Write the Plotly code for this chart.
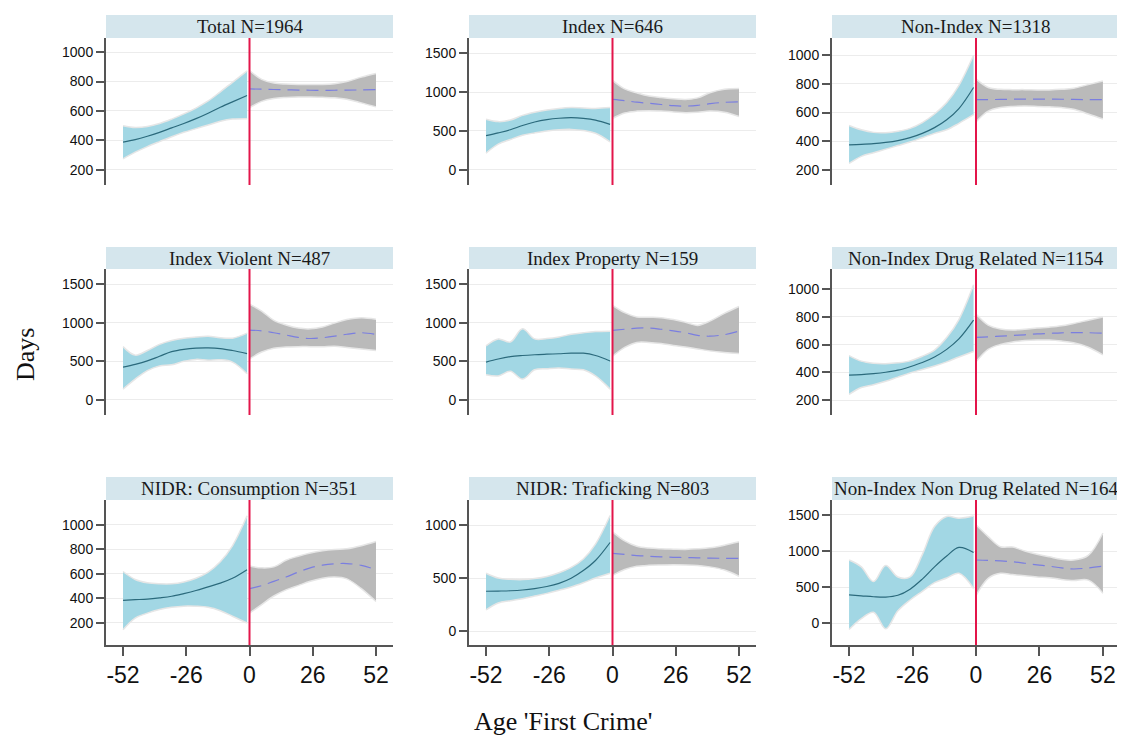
import plotly.graph_objects as go

# ---------------- data ----------------
weeks_before = [-52, -47, -42, -37, -32, -27, -22, -17, -12, -7, -1]
weeks_after = [0, 5, 10, 15, 20, 25, 30, 35, 40, 46, 52]

titles = ["Total N=1964", "Index N=646", "Non-Index N=1318",
          "Index Violent N=487", "Index Property N=159", "Non-Index Drug Related N=1154",
          "NIDR: Consumption N=351", "NIDR: Traficking N=803", "Non-Index Non Drug Related N=164"]

x_ticks = [-52, -26, 0, 26, 52]
x_tick_labels = ["-52", "-26", "0", "26", "52"]
y_ticks = [[200, 400, 600, 800, 1000], [0, 500, 1000, 1500], [200, 400, 600, 800, 1000],
           [0, 500, 1000, 1500], [0, 500, 1000, 1500], [200, 400, 600, 800, 1000],
           [200, 400, 600, 800, 1000], [0, 500, 1000], [0, 500, 1000, 1500]]
y_ranges = [[97, 1096], [-195, 1695], [95, 1120],
            [-195, 1695], [-195, 1695], [92, 1144],
            [20, 1204], [-132, 1236], [-305, 1708]]

# before first crime: mean, lower CI, upper CI
mean_before = [
    [388, 405, 428, 455, 485, 515, 548, 585, 625, 662, 705],
    [440, 475, 515, 570, 615, 645, 663, 670, 662, 640, 585],
    [375, 378, 383, 392, 405, 425, 455, 495, 550, 628, 775],
    [425, 460, 505, 565, 625, 655, 670, 673, 665, 640, 600],
    [490, 530, 560, 575, 585, 592, 598, 605, 605, 575, 505],
    [380, 383, 390, 400, 415, 440, 470, 510, 565, 640, 775],
    [385, 390, 395, 405, 418, 440, 465, 495, 525, 565, 635],
    [375, 377, 380, 387, 400, 420, 450, 498, 570, 665, 835],
    [390, 378, 365, 360, 385, 470, 610, 780, 930, 1050, 980],
]
lower_before = [
    [275, 320, 358, 392, 425, 455, 480, 505, 530, 545, 548],
    [215, 330, 390, 445, 475, 500, 515, 520, 505, 470, 360],
    [245, 295, 320, 345, 370, 395, 425, 455, 480, 525, 585],
    [140, 270, 380, 440, 455, 500, 525, 515, 520, 490, 340],
    [325, 310, 370, 270, 390, 405, 415, 400, 390, 310, 140],
    [240, 290, 310, 335, 365, 395, 420, 445, 475, 510, 550],
    [145, 240, 280, 310, 328, 337, 336, 328, 300, 255, 200],
    [200, 265, 285, 305, 330, 355, 385, 415, 455, 500, 545],
    [-90, 60, 150, -80, 170, 320, 440, 560, 625, 690, 480],
]
upper_before = [
    [500, 488, 495, 515, 545, 580, 620, 668, 730, 795, 872],
    [650, 620, 640, 700, 740, 770, 790, 800, 795, 790, 800],
    [510, 480, 462, 460, 470, 490, 530, 590, 670, 790, 1000],
    [690, 580, 640, 720, 770, 800, 815, 825, 805, 800, 865],
    [700, 790, 750, 920, 790, 795, 815, 850, 870, 885, 890],
    [520, 480, 465, 462, 468, 482, 515, 560, 650, 780, 1030],
    [620, 555, 528, 520, 520, 535, 565, 615, 700, 830, 1075],
    [545, 500, 488, 485, 495, 515, 550, 600, 680, 820, 1090],
    [875, 780, 575, 800, 640, 640, 950, 1340, 1480, 1455, 1485],
]

# after first crime: mean, lower CI, upper CI
mean_after = [
    [750, 748, 746, 744, 742, 741, 740, 741, 742, 743, 745],
    [905, 890, 870, 855, 840, 825, 820, 830, 850, 868, 873],
    [690, 690, 692, 693, 694, 694, 694, 693, 692, 690, 690],
    [905, 895, 870, 840, 810, 795, 805, 825, 850, 870, 848],
    [900, 915, 930, 930, 915, 895, 870, 835, 825, 845, 890],
    [652, 655, 660, 665, 670, 676, 680, 684, 686, 685, 682],
    [480, 505, 540, 575, 615, 650, 672, 683, 685, 670, 635],
    [732, 722, 712, 705, 700, 695, 693, 690, 688, 686, 685],
    [875, 870, 862, 850, 830, 808, 790, 765, 750, 765, 790],
]
lower_after = [
    [622, 665, 685, 692, 695, 695, 693, 690, 680, 655, 628],
    [660, 730, 755, 760, 755, 745, 735, 740, 755, 740, 685],
    [535, 610, 635, 643, 645, 643, 640, 635, 623, 590, 555],
    [530, 620, 670, 685, 690, 690, 690, 695, 680, 660, 640],
    [565, 680, 745, 745, 730, 705, 685, 660, 635, 615, 600],
    [475, 565, 600, 618, 628, 633, 632, 625, 612, 580, 525],
    [280, 350, 420, 470, 505, 540, 565, 575, 560, 480, 375],
    [525, 580, 610, 620, 623, 624, 623, 618, 605, 575, 517],
    [380, 620, 690, 672, 655, 640, 630, 605, 590, 595, 415],
]
upper_after = [
    [875, 815, 790, 783, 780, 780, 780, 785, 800, 830, 855],
    [1150, 1040, 990, 950, 930, 915, 905, 925, 990, 1035, 1045],
    [835, 775, 762, 760, 760, 758, 758, 762, 770, 795, 820],
    [1240, 1150, 1030, 970, 930, 920, 945, 995, 1040, 1065, 1045],
    [1225, 1130, 1075, 1070, 1065, 1040, 1005, 965, 1020, 1120, 1210],
    [820, 740, 712, 705, 710, 718, 725, 735, 752, 775, 798],
    [665, 650, 658, 712, 745, 772, 790, 800, 805, 830, 865],
    [935, 850, 800, 782, 775, 772, 770, 775, 785, 810, 842],
    [1365, 1200, 1060, 1055, 1000, 955, 920, 885, 875, 940, 1250],
]

# ---------------- layout ----------------
OFF = 8  # page body margin
W, H = 1125 - OFF, 738 - OFF
col_px = [(106, 393), (469, 756), (832, 1120)]
row_px = [(38, 185), (269, 415), (500, 645)]
strip_px = [(15, 38), (247, 269), (477, 500)]


def px_x(p):
    return (p - OFF) / W


def px_y(p):
    return 1 - (p - OFF) / H


BLUE = "#a2d7e4"
GRAY = "#bababa"
EDGE = "#e6e6e6"
MEAN_L = "#2b6a7c"
MEAN_R = "#7a7ee0"
RED = "#e3154a"
AX = "#555555"

fig = go.Figure()
layout = dict(width=W, height=H, margin=dict(l=0, r=0, t=0, b=0),
              paper_bgcolor="white", plot_bgcolor="white", showlegend=False)
shapes, annotations = [], []

for i in range(9):
    r, c = divmod(i, 3)
    n = "" if i == 0 else str(i + 1)
    xa, ya = "x" + n, "y" + n
    x0, x1 = col_px[c]
    y0, y1 = row_px[r]
    bottom = (r == 2)
    layout["xaxis" + n] = dict(
        domain=[px_x(x0), px_x(x1)], anchor=ya, range=[-59, 59],
        tickvals=x_ticks, ticktext=x_tick_labels, showticklabels=bottom,
        ticks="outside" if bottom else "",
        ticklen=9, tickwidth=1.5, tickcolor=AX,
        showline=bottom, linecolor=AX, linewidth=1.5, showgrid=False, zeroline=False,
        tickfont=dict(family="Liberation Sans, Arial", size=23, color="#111"))
    layout["yaxis" + n] = dict(
        domain=[px_y(y1), px_y(y0)], anchor=xa, range=y_ranges[i],
        tickvals=y_ticks[i], ticks="outside", ticklen=8, tickwidth=1.5, tickcolor=AX,
        showline=True, linecolor=AX, linewidth=2, showgrid=True, gridcolor="#ececec",
        gridwidth=1, zeroline=False,
        tickfont=dict(family="Liberation Sans, Arial", size=14, color="#111"))

    common = dict(xaxis=xa, yaxis=ya, hoverinfo="skip", mode="lines")
    fig.add_trace(go.Scatter(x=weeks_before, y=lower_before[i],
                             line=dict(color=EDGE, width=1.5, shape="spline"), **common))
    fig.add_trace(go.Scatter(x=weeks_before, y=upper_before[i], fill="tonexty", fillcolor=BLUE,
                             line=dict(color=EDGE, width=1.5, shape="spline"), **common))
    fig.add_trace(go.Scatter(x=weeks_after, y=lower_after[i],
                             line=dict(color=EDGE, width=1.5, shape="spline"), **common))
    fig.add_trace(go.Scatter(x=weeks_after, y=upper_after[i], fill="tonexty", fillcolor=GRAY,
                             line=dict(color=EDGE, width=1.5, shape="spline"), **common))
    fig.add_trace(go.Scatter(x=weeks_before, y=mean_before[i],
                             line=dict(color=MEAN_L, width=1.2, shape="spline"), **common))
    fig.add_trace(go.Scatter(x=weeks_after, y=mean_after[i],
                             line=dict(color=MEAN_R, width=1.2, shape="spline", dash="12px,7px"),
                             **common))

    shapes.append(dict(type="line", xref=xa, yref=ya + " domain", x0=0, x1=0, y0=0, y1=1,
                       line=dict(color=RED, width=2)))
    s0, s1 = strip_px[r]
    shapes.append(dict(type="rect", xref="paper", yref="paper", x0=px_x(x0), x1=px_x(x1),
                       y0=px_y(s1), y1=px_y(s0), fillcolor="#d5e6ed", line=dict(width=0),
                       layer="below"))
    annotations.append(dict(text=titles[i], xref="paper", yref="paper",
                            x=px_x((x0 + x1) / 2), y=px_y((s0 + s1) / 2),
                            xanchor="center", yanchor="middle", showarrow=False,
                            font=dict(family="Liberation Serif, Times New Roman", size=19,
                                      color="#1a1a1a")))

annotations.append(dict(text="Days", xref="paper", yref="paper", x=px_x(25), y=px_y(355),
                        textangle=-90, showarrow=False, xanchor="center", yanchor="middle",
                        font=dict(family="Liberation Serif, Times New Roman", size=26, color="#111")))
annotations.append(dict(text="Age 'First Crime'", xref="paper", yref="paper", x=px_x(563),
                        y=px_y(721), showarrow=False, xanchor="center", yanchor="middle",
                        font=dict(family="Liberation Serif, Times New Roman", size=26, color="#111")))

layout["shapes"] = shapes
layout["annotations"] = annotations
fig.update_layout(**layout)
fig.write_html("out.html")
